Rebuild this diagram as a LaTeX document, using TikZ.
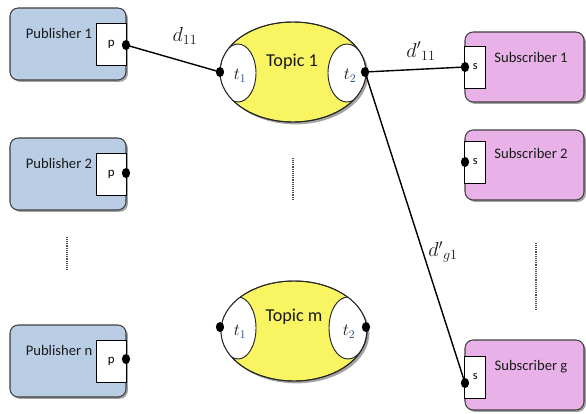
\documentclass[tikz,border=0pt]{standalone}
\usepackage{fontspec}
\setmainfont{Carlito}
\usetikzlibrary{shadows,shapes.geometric}
\definecolor{pubblue}{HTML}{B9CDE5}
\definecolor{subpink}{HTML}{E8B2E8}
\definecolor{topicyellow}{HTML}{F8F462}
\definecolor{bordergray}{HTML}{3F3F3F}
\definecolor{txtgray}{HTML}{1A1A1A}
\definecolor{subblue}{HTML}{1F4E8C}
\begin{document}
\begin{tikzpicture}[x=0.03cm,y=-0.03cm,
  boxshadow/.style={drop shadow={shadow xshift=1.6pt, shadow yshift=-1.6pt, fill=black!45, opacity=0.8}},
  pubbox/.style={draw=bordergray, line width=0.9pt, fill=pubblue, rounded corners=7pt,
    minimum width=3.48cm, minimum height=2.16cm, inner sep=0pt, boxshadow},
  subbox/.style={draw=bordergray, line width=0.9pt, fill=subpink, rounded corners=7pt,
    minimum width=3.57cm, minimum height=2.1cm, inner sep=0pt, boxshadow},
  boxtext/.style={text=txtgray, font=\fontsize{12.5}{13}\selectfont, inner sep=0pt},
  pport/.style={draw=black, fill=white, line width=0.6pt, minimum width=0.9cm, minimum height=1.26cm,
    inner sep=0pt, font=\fontsize{11}{12}\selectfont},
  sport/.style={draw=black, fill=white, line width=0.6pt, minimum width=0.63cm, minimum height=1.26cm,
    inner sep=0pt, font=\fontsize{10.5}{11}\selectfont},
  portdot/.style={ellipse, fill=black, minimum width=0.25cm, minimum height=0.3cm, inner sep=0pt},
  topicnode/.style={ellipse, draw=black!85, line width=0.8pt, fill=topicyellow, minimum width=4.38cm,
    minimum height=3cm, inner sep=0pt, drop shadow={shadow xshift=2pt, shadow yshift=-2pt, fill=black!45, opacity=0.8}},
  innerell/.style={ellipse, draw=black!85, line width=0.8pt, fill=white, minimum width=1.08cm,
    minimum height=1.74cm, inner sep=0pt},
  topictext/.style={text=txtgray, font=\fontsize{15.5}{16}\selectfont, inner sep=0pt},
  tlabel/.style={text=txtgray, font=\fontsize{14}{15}\selectfont, inner sep=0pt},
  dlabel/.style={text=txtgray, font=\fontsize{17}{18}\selectfont, inner sep=0pt},
  conn/.style={draw=black, line width=1.2pt},
  dotline/.style={draw=black!70, line width=0.9pt, dash pattern=on 0.8pt off 0.8pt}]
\useasboundingbox (0,0) rectangle (586,413);

% Publishers
\node[pubbox] (P1) at (68,44) {};
\node[boxtext] (P1t) at (59,33) {Publisher 1};
\node[pport, anchor=east] (P1p) at (P1.east) {p};
\node[portdot] (P1d) at (126,45) {};

\node[pubbox] (P2) at (68,174) {};
\node[boxtext] (P2t) at (59,163) {Publisher 2};
\node[pport, anchor=east] (P2p) at (P2.east) {p};
\node[portdot] (P2d) at (126,173) {};

\node[pubbox] (Pn) at (68,361) {};
\node[boxtext] (Pnt) at (59,350) {Publisher n};
\node[pport, anchor=east] (Pnp) at (Pn.east) {p};
\node[portdot] (Pnd) at (126,359) {};

% Subscribers
\node[subbox] (S1) at (524.5,67) {};
\node[boxtext] (S1t) at (531,57) {Subscriber 1};
\node[sport, anchor=west] (S1p) at (S1.west) {s};
\node[portdot] (S1d) at (465,67) {};

\node[subbox] (S2) at (524.5,165) {};
\node[boxtext] (S2t) at (531,153) {Subscriber 2};
\node[sport, anchor=west] (S2p) at ([yshift=0.09cm]S2.west) {s};
\node[portdot] (S2d) at (465,162) {};

\node[subbox] (Sg) at (524.5,375) {};
\node[boxtext] (Sgt) at (531,367) {Subscriber g};
\node[sport, anchor=west] (Sgp) at ([yshift=-0.06cm]Sg.west) {s};
\node[portdot] (Sgd) at (465,383) {};

% Topic 1
\node[topicnode] (T1) at (293,72) {};
\begin{scope}
  \clip (293,72) ellipse [x radius=2.19cm, y radius=1.5cm];
  \node[innerell] (T1a) at (238,73) {};
  \node[innerell, minimum width=1.14cm] (T1b) at (347,73) {};
\end{scope}
\draw[draw=black!85, line width=0.8pt] (293,72) ellipse [x radius=2.19cm, y radius=1.5cm];
\node[topictext] (T1t) at (292,62) {Topic 1};
\node[tlabel] (T1al) at (240,76) {$t_{\textcolor{subblue}{1}}$};
\node[tlabel] (T1bl) at (350,76) {$t_{\textcolor{subblue}{2}}$};
\node[portdot] (T1ad) at (220,72) {};
\node[portdot] (T1bd) at (365,72) {};

% Topic m
\node[topicnode] (Tm) at (294,331) {};
\begin{scope}
  \clip (294,331) ellipse [x radius=2.19cm, y radius=1.5cm];
  \node[innerell, minimum height=1.86cm] (Tma) at (238,328) {};
  \node[innerell, minimum width=1.14cm, minimum height=1.86cm] (Tmb) at (348,328) {};
\end{scope}
\draw[draw=black!85, line width=0.8pt] (294,331) ellipse [x radius=2.19cm, y radius=1.5cm];
\node[topictext] (Tmt) at (294,317) {Topic m};
\node[tlabel] (Tmal) at (240,332) {$t_{\textcolor{subblue}{1}}$};
\node[tlabel] (Tmbl) at (349,332) {$t_{\textcolor{subblue}{2}}$};
\node[portdot] (Tmad) at (220,327) {};
\node[portdot] (Tmbd) at (366,327) {};

% Dotted ellipsis lines
\coordinate (VP1) at (67,237);
\coordinate (VP2) at (67,269);
\draw[dotline] (VP1) -- (VP2);
\coordinate (VT1) at (293,158);
\coordinate (VT2) at (293,200);
\draw[dotline] (VT1) -- (VT2);
\coordinate (VS1) at (536,243);
\coordinate (VS2) at (536,310);
\draw[dotline] (VS1) -- (VS2);

% Connectors
\draw[conn] (P1d.center) -- (T1ad.center);
\draw[conn] (T1bd.center) -- (S1d.center);
\draw[conn] (T1bd.center) -- (Sgd.center);

% Connector labels
\node[dlabel] (L1) at (185,36) {$d_{11}$};
\node[dlabel] (L2) at (421,51) {${d'}_{11}$};
\node[dlabel] (L3) at (443,252) {${d'}_{g1}$};
\end{tikzpicture}
\end{document}
